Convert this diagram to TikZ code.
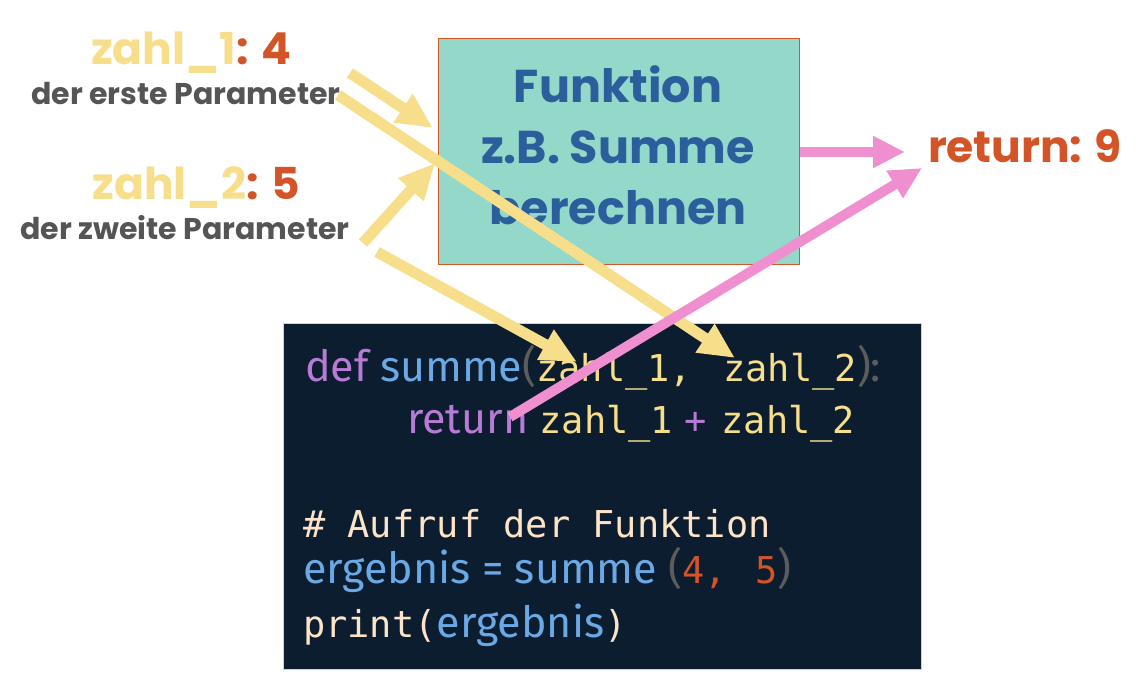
\documentclass[tikz,border=0pt]{standalone}
\usepackage{fontspec}
\usepackage{xcolor}
\usepackage{tikz}
\usetikzlibrary{arrows.meta,positioning}

\newfontfamily\popfont{Poppins}
\newfontfamily\codesans{Fira Sans}
\newfontfamily\codemono{DejaVu Sans Mono}[Scale=0.86]

\definecolor{argyellow}{HTML}{F7DE8A}
\definecolor{valorange}{HTML}{D35426}
\definecolor{paramgray}{HTML}{555555}
\definecolor{functeal}{HTML}{94D8C9}
\definecolor{funcline}{HTML}{D4572A}
\definecolor{funcblue}{HTML}{2A5F9B}
\definecolor{retpink}{HTML}{EF8FCF}
\definecolor{codebg}{HTML}{0B1D2E}
\definecolor{kwpurple}{HTML}{B77BD6}
\definecolor{namblue}{HTML}{6AA8E6}
\definecolor{pargray}{HTML}{5C5C5C}
\definecolor{cmtcream}{HTML}{FDE4C8}

\begin{document}
\begin{tikzpicture}[
    x=1pt, y=-1pt,
    argname/.style={anchor=base, inner sep=0pt, font=\popfont\bfseries\fontsize{44}{50}\selectfont},
    argnote/.style={anchor=base, inner sep=0pt, text=paramgray, font=\popfont\bfseries\fontsize{30}{36}\selectfont},
    funcbox/.style={draw=funcline, line width=1pt, fill=functeal, anchor=north west, minimum width=361pt, minimum height=226pt},
    functext/.style={anchor=base, inner sep=0pt, align=center, text=funcblue, font=\popfont\bfseries\fontsize{46}{61}\selectfont},
    codebox/.style={draw=gray!35, line width=1pt, fill=codebg, anchor=north west, minimum width=638pt, minimum height=346pt},
    codeline/.style={anchor=base west, inner sep=0pt, font=\codesans\fontsize{43}{50}\selectfont},
    argarrow/.style={-{Triangle[length=36pt, width=32pt]}, line width=11pt, argyellow},
    retarrow/.style={-{Triangle[length=32pt, width=30pt]}, line width=10pt, retpink}
]
\useasboundingbox (0,0) rectangle (1148,676);

% labels on the left
\node[argname] (zahl1) at (191,65) {\textcolor{argyellow}{zahl\_1}\textcolor{valorange}{: 4}};
\node[argnote] (note1) at (186,105) {der erste Parameter};
\node[argname] (zahl2) at (196,200) {\textcolor{argyellow}{zahl\_2}\textcolor{valorange}{: 5}};
\node[argnote] (note2) at (185,240) {der zweite Parameter};

% function box and result
\node[funcbox] (func) at (438,38) {};
\node[functext] (functxt) at (618,225) {Funktion\\z.B. Summe\\berechnen};
\node[argname, text=valorange] (ret) at (1025,163) {return: 9};

% code
\node[codebox] (code) at (283,323) {};
\node[codeline] (line1) at (305,381) {\color{kwpurple}def \color{namblue}summe\color{pargray}(\codemono\color{argyellow}zahl\_1,\hspace{9pt} zahl\_2\codesans\color{pargray}):};
\node[codeline] (line2) at (407,433) {\color{kwpurple}return \codemono\color{argyellow}zahl\_1\hspace{11pt}\color{kwpurple}+\hspace{15pt}\color{argyellow}zahl\_2};
\node[codeline] (line4) at (303,537) {\codemono\color{cmtcream}\# Aufruf der Funktion};
\node[codeline] (line5) at (303,583) {\color{namblue}ergebnis = summe \color{pargray}(\codemono\color{valorange}4,\ \hspace{6pt}5\codesans\color{pargray})};
\node[codeline] (line6) at (303,637) {\codemono\color{cmtcream}print(\codesans\color{namblue}ergebnis\codemono\color{cmtcream})};

% arrow ends
\coordinate (a1from) at (350,73);
\coordinate (a1to) at (433,128);
\coordinate (a2from) at (338,95);
\coordinate (a2to) at (735,358);
\coordinate (b1from) at (363,243);
\coordinate (b1to) at (435,163);
\coordinate (b2from) at (377,252);
\coordinate (b2to) at (577,362);
\coordinate (r1to) at (905,152);
\coordinate (r2from) at (510,417);
\coordinate (r2to) at (922,168);

\draw[argarrow] (a1from) -- (a1to);
\draw[argarrow] (a2from) -- (a2to);
\draw[argarrow] (b1from) -- (b1to);
\draw[argarrow] (b2from) -- (b2to);
\draw[retarrow] (func.east |- r1to) -- (r1to);
\draw[retarrow] (r2from) -- (r2to);
\end{tikzpicture}
\end{document}
